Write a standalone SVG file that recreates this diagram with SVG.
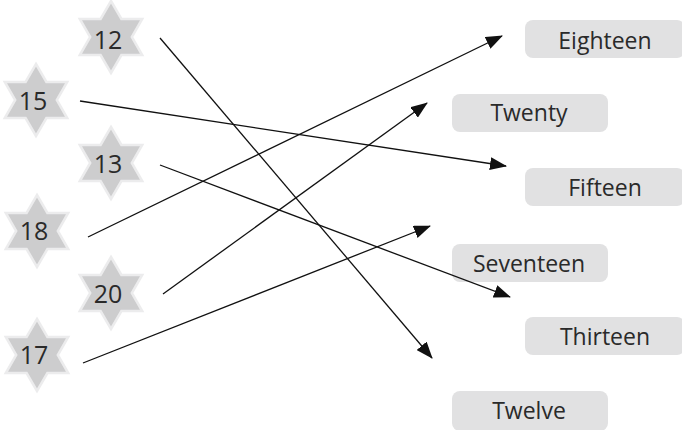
<svg xmlns="http://www.w3.org/2000/svg" width="682" height="430" viewBox="0 0 682 430">
<defs>
<style>
.star{fill:#cdcdce;stroke:#ececed;stroke-width:2.5;stroke-linejoin:miter}
.num{font-family:"Open Sans","Noto Sans",sans-serif;font-size:25px;fill:#2a2a2a;text-anchor:middle}
.box{fill:#e1e1e2}
.lbl{font-family:"Open Sans","Noto Sans",sans-serif;font-size:23px;fill:#2a2a2a;text-anchor:middle}
.ln{stroke:#111;stroke-width:1.3;fill:none;marker-end:url(#ah)}
</style>
<marker id="ah" markerUnits="userSpaceOnUse" markerWidth="17" markerHeight="13" refX="16" refY="6.5" orient="auto">
<path d="M0,0 L17,6.5 L0,13 z" fill="#111"/>
</marker>
<polygon id="hex" points="0,-36 10.4,-18 31.2,-18 20.8,0 31.2,18 10.4,18 0,36 -10.4,18 -31.2,18 -20.8,0 -31.2,-18 -10.4,-18"/>
</defs>
<rect width="682" height="430" fill="#fff"/>
<g id="star12"><use href="#hex" class="star" x="111" y="37"/><text class="num" x="108" y="49">12</text></g>
<g id="star15"><use href="#hex" class="star" x="36" y="100"/><text class="num" x="33" y="110">15</text></g>
<g id="star13"><use href="#hex" class="star" x="111" y="163"/><text class="num" x="108" y="173">13</text></g>
<g id="star18"><use href="#hex" class="star" x="37" y="231"/><text class="num" x="34" y="240">18</text></g>
<g id="star20"><use href="#hex" class="star" x="111" y="293"/><text class="num" x="108" y="303">20</text></g>
<g id="star17"><use href="#hex" class="star" x="37" y="355"/><text class="num" x="34" y="364">17</text></g>
<g id="eighteen"><rect class="box" x="525" y="20" width="160" height="38" rx="8"/><text class="lbl" x="605" y="49">Eighteen</text></g>
<g id="twenty"><rect class="box" x="452" y="94" width="156" height="38" rx="8"/><text class="lbl" x="529" y="121">Twenty</text></g>
<g id="fifteen"><rect class="box" x="525" y="168" width="160" height="38" rx="8"/><text class="lbl" x="605" y="196">Fifteen</text></g>
<g id="seventeen"><rect class="box" x="452" y="244" width="156" height="38" rx="8"/><text class="lbl" x="529" y="272">Seventeen</text></g>
<g id="thirteen"><rect class="box" x="525" y="317" width="160" height="38" rx="8"/><text class="lbl" x="605" y="345">Thirteen</text></g>
<g id="twelve"><rect class="box" x="452" y="391" width="156" height="40" rx="8"/><text class="lbl" x="529" y="419">Twelve</text></g>
<g id="connectors">
<line class="ln" x1="160" y1="38" x2="432" y2="358"/>
<line class="ln" x1="80" y1="101" x2="506" y2="166"/>
<line class="ln" x1="160" y1="165" x2="510" y2="297"/>
<line class="ln" x1="88" y1="237" x2="502" y2="36"/>
<line class="ln" x1="163" y1="294" x2="427" y2="103"/>
<line class="ln" x1="83" y1="363" x2="430" y2="226"/>
</g>
</svg>
